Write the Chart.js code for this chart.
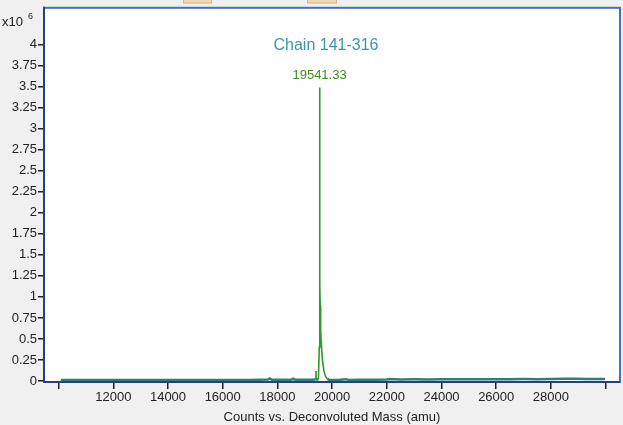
<!DOCTYPE html>
<html>
<head>
<meta charset="utf-8">
<title>Chain 141-316</title>
<script src="https://cdn.jsdelivr.net/npm/chart.js@4/dist/chart.umd.min.js"></script>
<style>
  html, body { margin: 0; padding: 0; background: #f0f0f0; }
  #wrap { width: 623px; height: 425px; position: relative; }
</style>
</head>
<body>
<div id="wrap"><canvas id="spectrum"></canvas></div>
<script>
// ── Data (counts in units of 10^6) ───────────────────────────
const MASSES = [
  10080, 11000, 12000, 13000, 14000, 15000, 16000, 17000,
  17650, 17720, 17800, 18500, 18580, 18650, 19300, 19400,
  19410, 19420, 19500, 19530, 19541, 19548, 19556, 19565,
  19580, 19610, 19650, 19700, 19760, 19830, 19900, 20300, 20500,
  20600, 21000, 21500, 22000, 22100, 22500, 23000, 23500,
  24000, 24500, 25000, 25500, 26000, 26500, 27000, 27500,
  28000, 28500, 28900, 29300, 29700, 29980,
];
const COUNTS = [
  0.012, 0.013, 0.012, 0.013, 0.012, 0.013, 0.012, 0.013,
  0.018, 0.030, 0.014, 0.015, 0.028, 0.014, 0.014, 0.020,
  0.120, 0.015, 0.020, 0.400, 3.490, 1.600, 1.130, 0.900,
  0.600, 0.420, 0.240, 0.120, 0.055, 0.025, 0.012, 0.014, 0.022,
  0.013, 0.015, 0.016, 0.017, 0.024, 0.018, 0.020, 0.019,
  0.021, 0.020, 0.022, 0.021, 0.022, 0.021, 0.023, 0.022,
  0.024, 0.026, 0.028, 0.025, 0.024, 0.023,
];
const X_TICKS = [10000, 12000, 14000, 16000, 18000, 20000, 22000, 24000, 26000, 28000, 30000];
const X_LABELED = [12000, 14000, 16000, 18000, 20000, 22000, 24000, 26000, 28000];
const Y_TICKS = [0, 0.25, 0.5, 0.75, 1, 1.25, 1.5, 1.75, 2, 2.25, 2.5, 2.75, 3, 3.25, 3.5, 3.75, 4];

const TITLE      = 'Chain 141-316';
const PEAK_MASS  = 19541.33;
const PEAK_VALUE = 3.49;
const X_TITLE    = 'Counts vs. Deconvoluted Mass (amu)';

const FONT = '"Liberation Sans", Arial, sans-serif';

// ── Decorations: backgrounds, frame, labels ──────────────────
const decor = {
  id: 'decor',
  beforeDraw(chart) {
    const { ctx, chartArea: a } = chart;
    ctx.save();
    ctx.fillStyle = '#f0f0f0';
    ctx.fillRect(0, 0, chart.width, chart.height);
    // toolbar tabs peeking in at the top
    ctx.fillStyle = '#f1d7b6';
    ctx.strokeStyle = '#d6b48a';
    ctx.lineWidth = 1;
    ctx.fillRect(183, 0, 29, 3);
    ctx.fillRect(307, 0, 30, 3);
    ctx.strokeRect(183.5, -1, 28, 4);
    ctx.strokeRect(307.5, -1, 29, 4);
    ctx.fillStyle = '#ffffff';
    ctx.fillRect(a.left, a.top, a.right - a.left, a.bottom - a.top);
    ctx.restore();
  },
  afterDraw(chart) {
    const { ctx, chartArea: a, scales } = chart;
    ctx.save();
    // plot frame
    ctx.strokeStyle = '#4a70b8';
    ctx.lineWidth = 2;
    ctx.strokeRect(a.left, a.top - 1, a.right - a.left, a.bottom - a.top + 1);
    ctx.strokeStyle = '#23427c';
    ctx.beginPath();
    ctx.moveTo(a.left, a.top - 2);
    ctx.lineTo(a.left, a.bottom);
    ctx.lineTo(a.right, a.bottom);
    ctx.stroke();

    // exponent label
    ctx.fillStyle = '#222';
    ctx.textBaseline = 'alphabetic';
    ctx.textAlign = 'left';
    ctx.font = '13px ' + FONT;
    ctx.fillText('x10', 2, 26);
    ctx.font = '9px ' + FONT;
    ctx.fillText('6', 28, 19);

    // title and peak annotation
    ctx.textAlign = 'center';
    ctx.textBaseline = 'middle';
    ctx.font = '16px ' + FONT;
    ctx.fillStyle = '#3a97a2';
    ctx.fillText(TITLE, 326, 46);
    const px = scales.x.getPixelForValue(PEAK_MASS);
    const py = scales.y.getPixelForValue(PEAK_VALUE);
    ctx.font = '13px ' + FONT;
    ctx.fillStyle = '#3f8c1c';
    ctx.fillText(PEAK_MASS.toFixed(2), px, py - 12);
    ctx.restore();
  },
};

const points = MASSES.map((m, i) => ({ x: m, y: COUNTS[i] }));
const isBase = (s) => s.p0.parsed.y < 0.05 && s.p1.parsed.y < 0.05;

new Chart(document.getElementById('spectrum'), {
  type: 'line',
  data: {
    datasets: [{
      data: points,
      borderColor: '#2a9a2a',
      borderWidth: 1.5,
      pointRadius: 0,
      tension: 0,
      segment: {
        borderColor: (s) => isBase(s) ? '#2f7f78' : '#2a9a2a',
        borderWidth: (s) => isBase(s) ? 2.5 : 1.6,
      },
    }],
  },
  options: {
    responsive: true,
    maintainAspectRatio: false,
    animation: false,
    layout: { padding: { top: 7, right: 3, left: 0, bottom: 0 } },
    plugins: { legend: { display: false }, tooltip: { enabled: false } },
    scales: {
      x: {
        type: 'linear',
        min: 9466,
        max: 30526,
        afterBuildTicks: (scale) => { scale.ticks = X_TICKS.map(v => ({ value: v })); },
        afterFit: (scale) => { scale.height = 43; },
        ticks: {
          autoSkip: false,
          maxRotation: 0,
          padding: 1,
          color: '#222',
          font: { family: FONT, size: 13 },
          callback: (v) => X_LABELED.includes(v) ? String(v) : '',
        },
        grid: { drawOnChartArea: false, drawTicks: true, tickLength: 7, color: '#222', lineWidth: 1.5 },
        border: { display: false },
        title: {
          display: true,
          text: X_TITLE,
          color: '#222',
          font: { family: FONT, size: 13 },
          padding: { top: 0, bottom: 0 },
        },
      },
      y: {
        min: -0.0118,
        max: 4.426,
        afterBuildTicks: (scale) => { scale.ticks = Y_TICKS.map(v => ({ value: v })); },
        afterFit: (scale) => { scale.width = 44; },
        ticks: {
          autoSkip: false,
          padding: 1,
          color: '#222',
          font: { family: FONT, size: 13 },
          callback: (v) => String(v),
        },
        grid: { drawOnChartArea: false, drawTicks: true, tickLength: 6, color: '#222', lineWidth: 1.5 },
        border: { display: false },
      },
    },
  },
  plugins: [decor],
});
</script>
</body>
</html>
